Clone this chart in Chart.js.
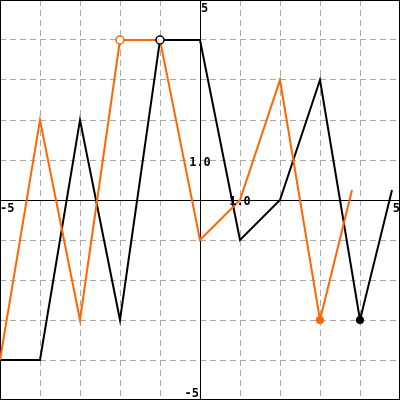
<!DOCTYPE html>
<html><head><meta charset="utf-8">
<script src="https://cdn.jsdelivr.net/npm/chart.js@4"></script>
<style>html,body{margin:0;padding:0;background:#fff}#wrap{width:400px;height:400px}</style>
</head><body><div id="wrap"><canvas id="c" width="400" height="400"></canvas></div>
<script>
const blackX = [-5, -4, -3, -2, -1, 0, 1, 2, 3, 4, 4.8];
const blackY = [-4, -4, 2, -3, 4, 4, -1, 0, 3, -3, 0.25];
const orangeX = [-5, -4, -3, -2, -1, 0, 1, 2, 3, 3.8];
const orangeY = [-4, 2, -3, 4, 4, -1, 0, 3, -3, 0.25];
const openX = [-1, -2];
const openY = [4, 4];
const openColors = ['#000000', '#ff6600'];
const filledX = [4, 3];
const filledY = [-3, -3];
const filledColors = ['#000000', '#ff6600'];
const axisMin = -5, axisMax = 5;
const axisLabels = [
  {text: '5', x: 0, y: 5, dx: 1, dy: 12, align: 'left'},
  {text: '-5', x: 0, y: -5, dx: -1, dy: -3, align: 'right'},
  {text: '-5', x: -5, y: 0, dx: 0, dy: 12, align: 'left'},
  {text: '5', x: 5, y: 0, dx: 0, dy: 12, align: 'right'},
  {text: '1.0', x: 0, y: 1, dx: 0, dy: 6, align: 'center'},
  {text: '1.0', x: 1, y: 0, dx: 0, dy: 5, align: 'center'}
];

const pts = (xs, ys) => xs.map((x, i) => ({x, y: ys[i]}));

const axesPlugin = {
  id: 'axesPlugin',
  beforeDatasetsDraw(chart) {
    const {ctx, scales: {x, y}, chartArea: a} = chart;
    ctx.save();
    ctx.strokeStyle = '#000';
    ctx.lineWidth = 1;
    const x0 = Math.round(x.getPixelForValue(0)) + 0.5;
    const y0 = Math.round(y.getPixelForValue(0)) + 0.5;
    ctx.beginPath();
    ctx.moveTo(x0, a.top); ctx.lineTo(x0, a.bottom);
    ctx.moveTo(a.left, y0); ctx.lineTo(a.right, y0);
    ctx.stroke();
    ctx.strokeRect(a.left + 0.5, a.top + 0.5, a.right - a.left - 1, a.bottom - a.top - 1);
    ctx.restore();
  },
  afterDatasetsDraw(chart) {
    const {ctx, scales: {x, y}} = chart;
    ctx.save();
    ctx.fillStyle = '#000';
    ctx.font = 'bold 12px "DejaVu Sans Mono"';
    ctx.textBaseline = 'alphabetic';
    axisLabels.forEach(l => {
      ctx.textAlign = l.align;
      ctx.fillText(l.text, x.getPixelForValue(l.x) + l.dx, y.getPixelForValue(l.y) + l.dy);
    });
    ctx.restore();
  }
};

const scaleOpts = {
  type: 'linear', min: axisMin, max: axisMax,
  ticks: {display: false, stepSize: 1, padding: 0},
  grid: {color: '#aaaaaa', lineWidth: 1, drawTicks: false, tickLength: 0},
  border: {display: false, dash: [6, 4]}
};

new Chart(document.getElementById('c'), {
  type: 'scatter',
  data: {datasets: [
    {data: pts(openX, openY), pointRadius: 4, pointBorderWidth: 1.5, pointBackgroundColor: '#fff', pointBorderColor: openColors, showLine: false, order: 0},
    {data: pts(filledX, filledY), pointRadius: 4, pointBorderWidth: 0, pointBackgroundColor: filledColors, pointBorderColor: filledColors, showLine: false, order: 1},
    {data: pts(orangeX, orangeY), showLine: true, borderColor: '#ff6600', borderWidth: 2, pointRadius: 0, tension: 0, order: 2},
    {data: pts(blackX, blackY), showLine: true, borderColor: '#000000', borderWidth: 2, pointRadius: 0, tension: 0, order: 3}
  ]},
  options: {
    responsive: false, animation: false, maintainAspectRatio: false,
    layout: {padding: 0, autoPadding: false},
    plugins: {legend: {display: false}, tooltip: {enabled: false}},
    scales: {x: scaleOpts, y: scaleOpts}
  },
  plugins: [axesPlugin]
});
</script></body></html>
